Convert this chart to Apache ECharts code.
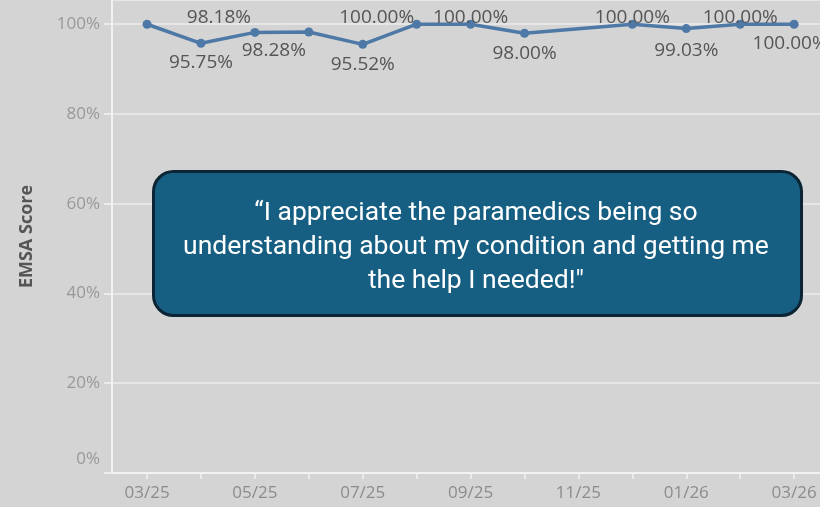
<!DOCTYPE html>
<html>
<head>
<meta charset="utf-8">
<script src="https://cdn.jsdelivr.net/npm/echarts@6/dist/echarts.min.js"></script>
<style>
  html, body { margin: 0; padding: 0; background: #d4d4d4; }
  #chart { width: 820px; height: 507px; }
</style>
</head>
<body>
<div id="chart"></div>
<script>
// monthly EMSA scores, 11/25 has no value
var months = ['03/25', '04/25', '05/25', '06/25', '07/25', '08/25', '09/25', '10/25', '11/25', '12/25', '01/26', '02/26', '03/26'];
var scores = [100.00, 95.75, 98.18, 98.28, 95.52, 100.00, 100.00, 98.00, null, 100.00, 99.03, 100.00, 100.00];
var yTicks = [0, 20, 40, 60, 80, 100];
var quoteLines = ['\u201cI appreciate the paramedics being so', 'understanding about my condition and getting me', 'the help I needed!"'];

// where each value label sits relative to its point (null = hidden)
var labelOffsets = [null, [0, 19], [-36, -15], [-35, 19], [0, 20], [-40, -7], [0, -7], [0, 20], null, [0, -7], [0, 22], [0, -7], [-4, 19]];

var seriesData = [];
for (var i = 0; i < months.length; i++) {
    var item = { value: [i, scores[i]] };
    if (labelOffsets[i]) {
        item.label = { show: true, position: 'inside', offset: labelOffsets[i] };
    } else {
        item.label = { show: false };
    }
    seriesData.push(item);
}

var tickIdx = months.map(function (m, i) { return i; });
var labelIdx = tickIdx.filter(function (i) { return i % 2 === 0; });

var myChart = echarts.init(document.getElementById('chart'));
var option = {
    backgroundColor: '#d4d4d4',
    animation: false,
    grid: { left: 112, right: 0, top: 0, bottom: 34 },
    xAxis: {
        type: 'value',
        min: -0.65,
        max: 12.48,
        axisLine: { show: true, onZero: false, lineStyle: { color: '#f2f2f2', width: 2 } },
        axisTick: { show: true, customValues: tickIdx, length: 6, lineStyle: { color: '#f2f2f2', width: 1.5 } },
        axisLabel: {
            customValues: labelIdx,
            margin: 12,
            color: '#8c8c8c',
            fontFamily: 'Open Sans',
            fontSize: 17,
            formatter: function (v) { return months[Math.round(v)]; }
        },
        splitLine: { show: false }
    },
    yAxis: {
        type: 'value',
        min: 0,
        max: 105.4,
        interval: 20,
        name: 'EMSA Score',
        nameLocation: 'middle',
        nameRotate: 90,
        nameGap: 76,
        nameTextStyle: { color: '#555555', fontFamily: 'Open Sans', fontSize: 18, fontWeight: 'bold' },
        axisLine: { show: true, onZero: false, lineStyle: { color: '#f2f2f2', width: 2 } },
        axisTick: { show: true, length: 8, lineStyle: { color: '#f2f2f2', width: 1.5 } },
        axisLabel: {
            showMaxLabel: false,
            margin: 12,
            color: '#999999',
            fontFamily: 'Open Sans',
            fontSize: 17,
            formatter: function (v) {
                if (yTicks.indexOf(v) < 0) return '';
                return v === 0 ? '{z|0%}' : v + '%';
            },
            rich: { z: { color: '#999999', fontFamily: 'Open Sans', fontSize: 17, padding: [0, 0, 28, 0] } }
        },
        splitLine: { show: true, lineStyle: { color: '#ececec', width: 1.5 } }
    },
    series: [{
        type: 'line',
        data: seriesData,
        connectNulls: true,
        symbol: 'circle',
        symbolSize: 9,
        lineStyle: { color: '#4e79a7', width: 3.5 },
        itemStyle: { color: '#4e79a7' },
        label: {
            color: '#555555',
            fontFamily: 'Open Sans',
            fontSize: 19,
            formatter: function (p) { return p.value[1].toFixed(2) + '%'; }
        },
        z: 3
    }],
    graphic: [{
        type: 'rect',
        left: 152,
        top: 170,
        z: 100,
        shape: { width: 648, height: 144, r: 20 },
        style: { fill: '#175f82', stroke: '#0b2535', lineWidth: 3 }
    }, {
        type: 'text',
        x: 476,
        y: 247,
        z: 101,
        style: {
            text: quoteLines.join('\n'),
            fill: '#ffffff',
            font: '26.5px Roboto',
            lineHeight: 34,
            align: 'center',
            verticalAlign: 'middle'
        }
    }]
};
myChart.setOption(option);
</script>
</body>
</html>
